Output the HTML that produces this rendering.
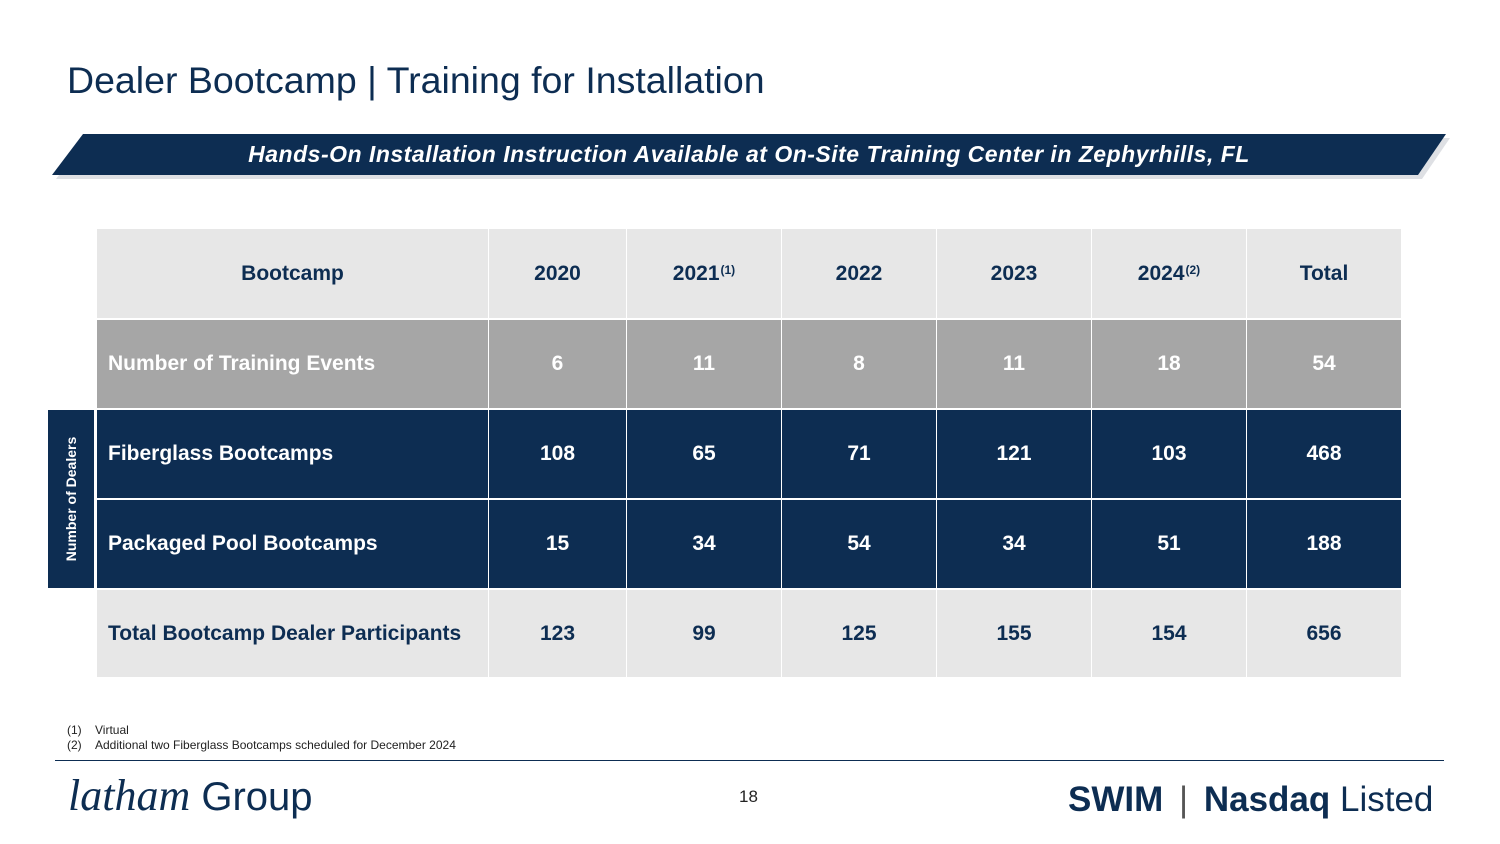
<!DOCTYPE html>
<html><head><meta charset="utf-8"><style>
*{margin:0;padding:0;box-sizing:border-box}
body{width:1500px;height:844px;background:#fff;position:relative;overflow:hidden;font-family:"Liberation Sans",Arial,sans-serif}
.abs{position:absolute}
.c{position:absolute;display:flex;align-items:center;justify-content:center;font-weight:bold;font-size:21px;letter-spacing:0px}
.l{justify-content:flex-start;padding-left:11px}
sup{font-size:12px;position:relative;top:-4px;line-height:12px;margin-left:1px}
</style></head><body>
<div class="abs" style="left:67px;top:59px;font-size:37.5px;color:#0d2d52;white-space:nowrap">Dealer Bootcamp | Training for Installation</div>
<svg class="abs" style="left:0;top:0" width="1500" height="200">
<polygon points="56,179 87,138 1450,138 1422,179" fill="#c8ccd2" opacity="0.6"/>
<polygon points="52,175 83,134 1446,134 1418,175" fill="#0d2d52"/>
</svg>
<div class="abs" style="left:52px;width:1394px;top:141px;text-align:center;font-size:23px;letter-spacing:0.5px;font-weight:bold;font-style:italic;color:#fff;white-space:nowrap">Hands-On Installation Instruction Available at On-Site Training Center in Zephyrhills, FL</div>
<div class="abs" style="left:48px;top:410px;width:46px;height:178px;background:#0d2d52"></div>
<div class="abs" style="left:71px;top:499px;transform:translate(-50%,-50%) rotate(-90deg);color:#fff;font-weight:bold;font-size:14px;white-space:nowrap">Number of Dealers</div>
<div id="tbl"></div>
<div class="abs" style="left:67px;top:723px;font-size:12px;color:#222;line-height:15px">
<div><span style="display:inline-block;width:28px">(1)</span>Virtual</div><div><span style="display:inline-block;width:28px">(2)</span>Additional two Fiberglass Bootcamps scheduled for December 2024</div></div>
<div class="abs" style="left:55px;top:760px;width:1389px;height:1px;background:#0d2d52"></div>
<div class="abs" style="left:68px;top:770px;font-size:44px;color:#0d2d52;white-space:nowrap"><span style="font-family:'Liberation Serif',serif;font-style:italic">latham</span><span style="font-size:40px;color:#0d2d52"> Group</span></div>
<div class="abs" style="left:739px;top:787px;font-size:17px;color:#222">18</div>
<div class="abs" style="left:1068px;top:780px;font-size:35px;color:#0d2d52;white-space:nowrap"><b>SWIM</b> <span style="color:#555;margin:0 6px">|</span> <b>Nasdaq</b> Listed</div>
<script>
const cols=[97,488,626,781,936,1091,1246,1401];
const rows=[229,320,410,500,590,679];
const headers=['Bootcamp','2020','2021<sup>(1)</sup>','2022','2023','2024<sup>(2)</sup>','Total'];
const labels=['Number of Training Events','Fiberglass Bootcamps','Packaged Pool Bootcamps','Total Bootcamp Dealer Participants'];
const events=[6,11,8,11,18,54];
const fiberglass=[108,65,71,121,103,468];
const packaged=[15,34,54,34,51,188];
const total=[123,99,125,155,154,656];
const data=[events,fiberglass,packaged,total];
const bg=['#a6a6a6','#0d2d52','#0d2d52','#e7e7e7'];
const fg=['#fff','#fff','#fff','#0d2d52'];
const t=document.getElementById('tbl');
function cell(r,c,html,b,f,left){
 const d=document.createElement('div');
 d.className='c'+(left?' l':'');
 d.style.left=(cols[c]+(c?1:0))+'px';d.style.width=(cols[c+1]-cols[c]-(c?1:0))+'px';
 d.style.top=rows[r]+'px';d.style.height=(rows[r+1]-rows[r]-2)+'px';
 d.style.background=b;d.style.color=f;d.innerHTML=html;
 
 
 t.appendChild(d);
}
headers.forEach((h,c)=>cell(0,c,h,'#e7e7e7','#0d2d52',false));
labels.forEach((lb,i)=>{
 cell(i+1,0,lb,bg[i],fg[i],true);
 data[i].forEach((v,j)=>cell(i+1,j+1,String(v),bg[i],fg[i],false));
});
</script>
</body></html>
